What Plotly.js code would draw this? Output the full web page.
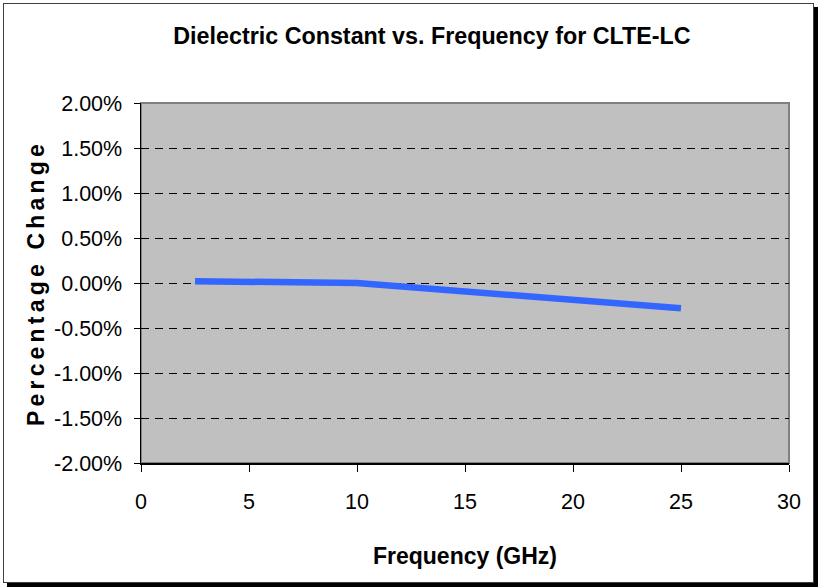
<!DOCTYPE html>
<html>
<head>
<meta charset="utf-8">
<script src="https://cdn.plot.ly/plotly-3.0.1.min.js"></script>
<style>
  html, body { margin: 0; padding: 0; background: #fff; }
  #frame {
    position: absolute; left: 3px; top: 3px;
    width: 809px; height: 578px;
    border: 1px solid #404040;
    box-shadow: 4px 4px 0 #000;
    background: #fff;
  }
  #chart { width: 809px; height: 578px; }
  .ytitle { letter-spacing: 4.2px; }
</style>
</head>
<body>
<div id="frame"><div id="chart"></div></div>
<script>
// Data
var frequencyGHz = [2.5, 10, 25];
var percentChange = [0.02, 0.00, -0.28];

var yTickValues = [2, 1.5, 1, 0.5, 0, -0.5, -1, -1.5, -2];
var yTickLabels = ["2.00%", "1.50%", "1.00%", "0.50%", "0.00%", "-0.50%", "-1.00%", "-1.50%", "-2.00%"];
var xTickValues = [0, 5, 10, 15, 20, 25, 30];
var xTickLabels = ["0", "5", "10", "15", "20", "25", "30"];

var FONT = "Arial, 'Liberation Sans', sans-serif";

var trace = {
  x: frequencyGHz,
  y: percentChange,
  type: "scatter",
  mode: "lines",
  line: { color: "#3366FF", width: 6.5 },
  hoverinfo: "skip"
};

var layout = {
  width: 809,
  height: 578,
  margin: { l: 137, r: 24, t: 99, b: 119 },
  paper_bgcolor: "#ffffff",
  plot_bgcolor: "#C0C0C0",
  showlegend: false,
  font: { family: FONT, color: "#000", size: 21 },
  title: {
    text: "<b>Dielectric Constant vs. Frequency for CLTE-LC</b>",
    font: { family: FONT, size: 23.3, color: "#000" },
    xref: "container", x: 0.529, xanchor: "center",
    yref: "container", y: 0.945, yanchor: "middle"
  },
  xaxis: {
    range: [0, 30],
    tickvals: xTickValues,
    ticktext: xTickLabels,
    ticks: "outside", ticklen: 7, tickwidth: 1, tickcolor: "#000",
    ticklabelstandoff: 12,
    showline: true, linecolor: "#000", linewidth: 1.5,
    showgrid: false, zeroline: false,
    tickfont: { family: FONT, size: 21.5, color: "#000" },
    title: {
      text: "<b>Frequency (GHz)</b>",
      font: { family: FONT, size: 23, color: "#000" },
      standoff: 34
    },
    fixedrange: true
  },
  yaxis: {
    range: [-2, 2],
    tickvals: yTickValues,
    ticktext: yTickLabels,
    ticks: "outside", ticklen: 6, tickwidth: 1, tickcolor: "#000",
    ticklabelstandoff: 7,
    showline: true, linecolor: "#000", linewidth: 1.5,
    showgrid: true, gridcolor: "#000", gridwidth: 1, griddash: "8px,6px",
    zeroline: false,
    tickfont: { family: FONT, size: 21.5, color: "#000" },
    title: {
      text: "<b>Percentage Change</b>",
      font: { family: FONT, size: 23, color: "#000" },
      standoff: 3
    },
    fixedrange: true
  },
  shapes: [{
    type: "rect", xref: "paper", yref: "paper",
    x0: 0, x1: 1, y0: 0, y1: 1,
    line: { color: "#808080", width: 2 },
    fillcolor: "rgba(0,0,0,0)",
    layer: "below"
  }]
};

Plotly.newPlot("chart", [trace], layout, { displayModeBar: false, staticPlot: true });
</script>
</body>
</html>
